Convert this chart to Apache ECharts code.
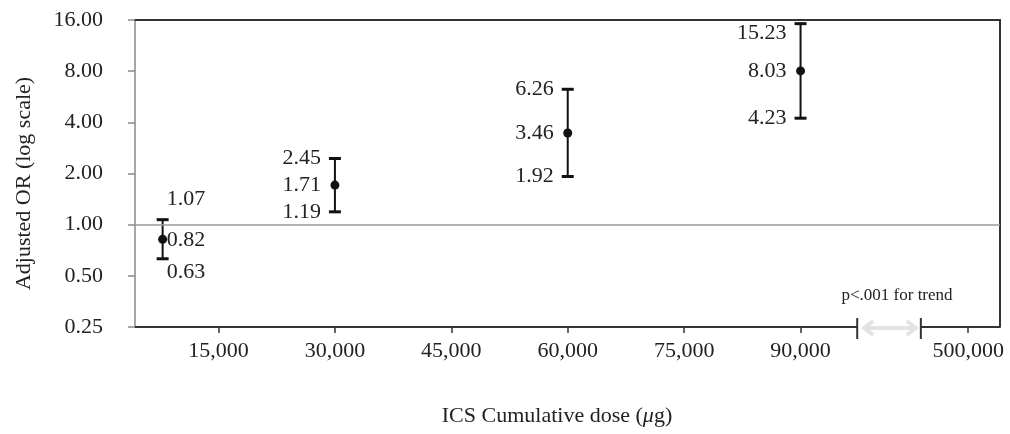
<!DOCTYPE html>
<html>
<head>
<meta charset="utf-8">
<script src="https://cdn.jsdelivr.net/npm/echarts@6/dist/echarts.min.js"></script>
<style>
  html, body { margin: 0; padding: 0; background: #fff; }
  #chart { width: 1010px; height: 434px; }
</style>
</head>
<body>
<div id="chart"></div>
<script>
// ---- data ----
const pointDose = [7800, 30000, 60000, 90000];           // x position of each group (dose, µg)
const orValues  = [0.82, 1.71, 3.46, 8.03];              // adjusted OR
const ciLow     = [0.63, 1.19, 1.92, 4.23];              // lower 95% CI
const ciHigh    = [1.07, 2.45, 6.26, 15.23];             // upper 95% CI
const doseTickValues = [15000, 30000, 45000, 60000, 75000, 90000, 500000];
const doseTickLabels = ['15,000', '30,000', '45,000', '60,000', '75,000', '90,000', '500,000'];
const orTickLabels = ['0.25', '0.50', '1.00', '2.00', '4.00', '8.00', '16.00'];
const trendText = 'p<.001 for trend';

// ---- broken-axis layout (display only) ----
const X_MIN = 4240, X_MAX = 115700;
const BREAK_START = 97300, BREAK_END = 105500, FAR_POS = 111600;
function axisPos(dose) { return dose <= 90000 ? dose : FAR_POS; }
const tickPositions = doseTickValues.map(axisPos);

const FONT = '"Liberation Serif", "Times New Roman", serif';
const TXT = '#222';

const chart = echarts.init(document.getElementById('chart'), null, { renderer: 'canvas' });

const option = {
  backgroundColor: '#fff',
  animation: false,
  grid: { left: 135, right: 10, top: 20, bottom: 107 },
  xAxis: [{
    type: 'value', min: X_MIN, max: X_MAX,
    axisLine: { show: false },
    splitLine: { show: false },
    axisTick: { show: true, length: 6, customValues: tickPositions,
                lineStyle: { color: '#333', width: 1.5 } },
    axisLabel: { customValues: tickPositions, margin: 13, fontFamily: FONT, fontSize: 22, color: TXT,
                 formatter: v => { const i = tickPositions.findIndex(t => Math.abs(t - v) < 1); return i >= 0 ? doseTickLabels[i] : ''; } }
  }, {
    type: 'value', min: X_MIN, max: X_MAX, position: 'top',
    axisLine: { show: true, lineStyle: { color: '#333', width: 2 } },
    axisTick: { show: false }, axisLabel: { show: false }, splitLine: { show: false }
  }],
  yAxis: [{
    type: 'log', logBase: 2, min: 0.25, max: 16,
    axisLine: { show: true, lineStyle: { color: '#8a8a8a', width: 1.5 } },
    axisTick: { show: true, inside: false, length: 7, lineStyle: { color: '#8a8a8a', width: 1.5 } },
    splitLine: { show: false },
    axisLabel: { margin: 32, fontFamily: FONT, fontSize: 22, color: TXT,
                 formatter: v => { const s = Number(v).toFixed(2); return orTickLabels.includes(s) ? s : ''; } }
  }, {
    type: 'log', logBase: 2, min: 0.25, max: 16, position: 'right',
    axisLine: { show: true, lineStyle: { color: '#333', width: 2 } },
    axisTick: { show: false }, axisLabel: { show: false }, splitLine: { show: false }
  }],
  series: [{
    type: 'custom',
    xAxisIndex: 0, yAxisIndex: 0,
    clip: false,
    data: pointDose.map((d, i) => [d, ciLow[i], orValues[i], ciHigh[i]]),
    encode: { x: 0, y: [1, 2, 3] },
    markLine: {
      silent: true, symbol: ['none', 'none'], label: { show: false },
      lineStyle: { color: '#9a9a9a', width: 1.5, type: 'solid' },
      data: [{ yAxis: 1 }]
    },
    renderItem: function (params, api) {
      const i = params.dataIndex;
      const x = api.value(0);
      const lo = api.value(1), mid = api.value(2), hi = api.value(3);
      const pLo = api.coord([x, lo]);
      const pMid = api.coord([x, mid]);
      const pHi = api.coord([x, hi]);
      const top = params.coordSys.y;
      const cx = pMid[0];
      const capW = 6;
      const lineStyle = { stroke: '#111', lineWidth: 2 };
      const capStyle = { stroke: '#111', lineWidth: 3 };
      const children = [
        { type: 'line', shape: { x1: cx, y1: pLo[1], x2: cx, y2: pHi[1] }, style: lineStyle },
        { type: 'line', shape: { x1: cx - capW, y1: pLo[1], x2: cx + capW, y2: pLo[1] }, style: capStyle },
        { type: 'line', shape: { x1: cx - capW, y1: pHi[1], x2: cx + capW, y2: pHi[1] }, style: capStyle },
        { type: 'circle', shape: { cx: cx, cy: pMid[1], r: 4.5 }, style: { fill: '#111' } }
      ];
      const labels = [[hi, pHi[1]], [mid, pMid[1]], [lo, pLo[1]]];
      labels.forEach(function (l, k) {
        let tx, ty, align;
        if (i === 0) {
          tx = cx + 4; align = 'left';
          ty = l[1] + (k === 0 ? -20 : (k === 1 ? 1 : 13));
        } else {
          tx = cx - 14; align = 'right';
          ty = Math.max(l[1], top + 13);
        }
        children.push({
          type: 'text',
          style: { text: l[0].toFixed(2), x: tx, y: ty, align: align, verticalAlign: 'middle',
                   fontSize: 22, fontFamily: FONT, fill: TXT }
        });
      });
      return { type: 'group', children: children };
    }
  }]
};

chart.setOption(option);

// ---- decorations computed from the axis scale ----
const y0 = chart.convertToPixel({ yAxisIndex: 0 }, 0.25);
const yTop = chart.convertToPixel({ yAxisIndex: 0 }, 16);
const xL = chart.convertToPixel({ xAxisIndex: 0 }, X_MIN);
const xR = chart.convertToPixel({ xAxisIndex: 0 }, X_MAX);
const xb1 = chart.convertToPixel({ xAxisIndex: 0 }, BREAK_START);
const xb2 = chart.convertToPixel({ xAxisIndex: 0 }, BREAK_END);
const gridMidY = (y0 + yTop) / 2;
const ax = { stroke: '#333', lineWidth: 2 };
const arrow = { stroke: '#e3e3e3', lineWidth: 4, fill: 'none' };
const aL = xb1 + 7, aR = xb2 - 5;

chart.setOption({
  graphic: [
    { type: 'line', z: 50, shape: { x1: xL, y1: y0, x2: xb1, y2: y0 }, style: ax },
    { type: 'line', z: 50, shape: { x1: xb2, y1: y0, x2: xR, y2: y0 }, style: ax },
    { type: 'line', z: 50, shape: { x1: xb1, y1: y0 - 9, x2: xb1, y2: y0 + 12 }, style: ax },
    { type: 'line', z: 50, shape: { x1: xb2, y1: y0 - 9, x2: xb2, y2: y0 + 12 }, style: ax },
    { type: 'line', z: 50, shape: { x1: aL + 2, y1: y0 + 1, x2: aR - 2, y2: y0 + 1 }, style: arrow },
    { type: 'polyline', z: 50, shape: { points: [[aL + 9, y0 - 6], [aL, y0 + 1], [aL + 9, y0 + 8]] }, style: arrow },
    { type: 'polyline', z: 50, shape: { points: [[aR - 9, y0 - 6], [aR, y0 + 1], [aR - 9, y0 + 8]] }, style: arrow },
    { type: 'text', z: 50, style: { text: trendText, x: (xb1 + xb2) / 2 + 8, y: y0 - 31, align: 'center', verticalAlign: 'middle',
      fontSize: 17, fontFamily: FONT, fill: TXT } },
    { type: 'text', z: 50, rotation: Math.PI / 2, x: 24, y: gridMidY + 10,
      style: { text: 'Adjusted OR (log scale)', x: 0, y: 0, align: 'center', verticalAlign: 'middle',
               fontSize: 22, fontFamily: FONT, fill: TXT } },
    { type: 'text', z: 50, style: { text: 'ICS Cumulative dose ({it|\u03BC}g)', x: 557, y: 416, align: 'center', verticalAlign: 'middle',
      fontSize: 22, fontFamily: FONT, fill: TXT,
      rich: { it: { fontStyle: 'italic', fontSize: 22, fontFamily: FONT, fill: TXT, color: TXT } } } }
  ]
});
</script>
</body>
</html>
